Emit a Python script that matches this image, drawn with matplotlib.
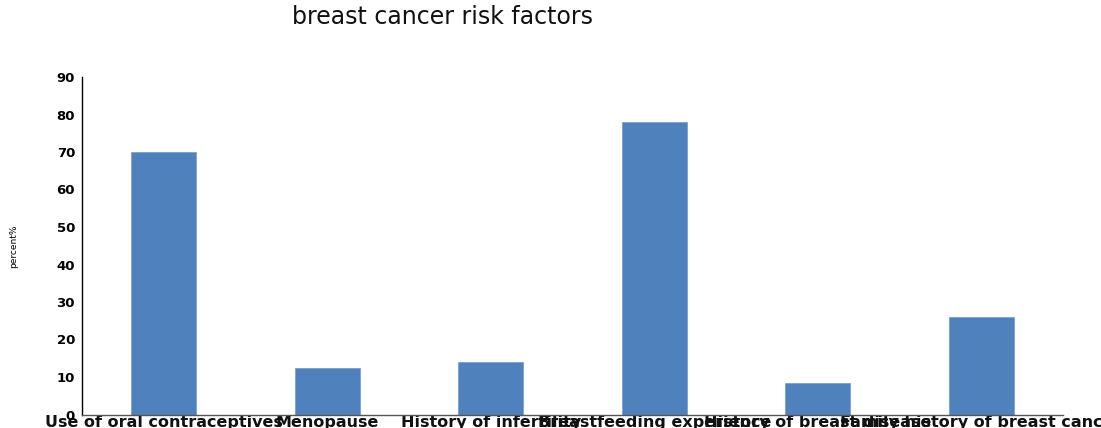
import matplotlib
matplotlib.use("Agg")
import matplotlib.pyplot as plt
import numpy as np

# Data
categories = [
    "Use of oral contraceptives",
    "Menopause",
    "History of infertility",
    "Breastfeeding experience",
    "History of breast disease",
    "Family history of breast cancer",
]
percent = [70, 12.5, 14, 78, 8.5, 26]
yticks = [0, 10, 20, 30, 40, 50, 60, 70, 80, 90]

W, H = 1101, 428
fig = plt.figure(figsize=(W / 100, H / 100), dpi=100)
# axes box in pixels: x 82..1063, y 77..414.5
ax = fig.add_axes([82 / W, 1 - 414.5 / H, (1063 - 82) / W, (414.5 - 77) / H])

x = np.arange(len(categories))
ax.bar(x, percent, width=0.4, color="#4f81bd", edgecolor="#7aa0cf", linewidth=0.6)

ax.set_xlim(-0.5, len(categories) - 0.5)
ax.set_ylim(0, 90)
ax.set_yticks(yticks)
ax.set_yticklabels([str(t) for t in yticks], fontsize=9.5, fontweight="bold",
                   family="DejaVu Sans")
ax.set_xticks(x)
ax.set_xticklabels(categories, fontsize=11.5, fontweight="bold", family="DejaVu Sans",
                   color="#111111")
ax.tick_params(axis="both", length=0)
ax.tick_params(axis="y", pad=5)
ax.tick_params(axis="x", pad=0)

for s in ["top", "right"]:
    ax.spines[s].set_visible(False)
ax.spines["left"].set_linewidth(1.0)
ax.spines["bottom"].set_linewidth(1.0)
ax.spines["bottom"].set_color("#555555")

ax.set_ylabel("percent%", fontsize=6.5, family="Liberation Sans Narrow")
ax.yaxis.set_label_coords((18 - 82) / (1063 - 82), 0.5)

fig.text(443 / W, 1 - 17 / H, "breast cancer risk factors", ha="center", va="center",
         fontsize=17, family="DejaVu Sans", color="#111111")

fig.savefig("out.png", dpi=100)
